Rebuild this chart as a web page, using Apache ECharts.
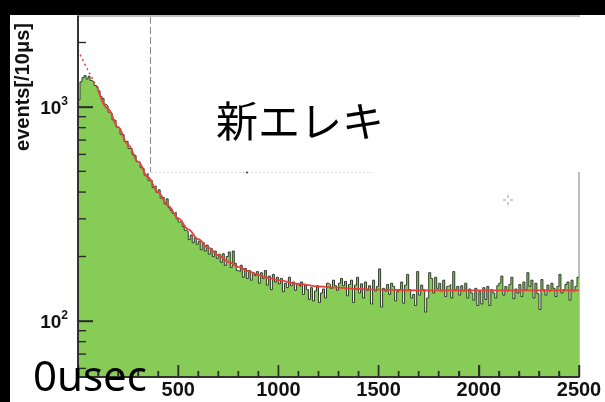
<!DOCTYPE html>
<html>
<head>
<meta charset="utf-8">
<script src="https://cdn.jsdelivr.net/npm/echarts@6/dist/echarts.min.js"></script>
<style>
  html, body { margin: 0; padding: 0; background: #fff; }
  #chart { width: 605px; height: 402px; }
</style>
</head>
<body>
<div id="chart"></div>
<script>
// Decay-time histogram: 10 μs bins from 0 to 2500 μs
const binWidth = 10;
const counts = [
  1080, 1310, 1370, 1400, 1350, 1390, 1330, 1310, 1260, 1240,
  1190, 1120, 1095, 1030, 1010, 945, 935, 870, 865, 805,
  795, 745, 742, 690, 690, 640, 640, 598, 592, 555,
  552, 520, 515, 480, 488, 452, 455, 420, 428, 398,
  410, 375, 378, 352, 372, 338, 328, 318, 322, 300,
  290, 293, 276, 265, 262, 240, 252, 232, 245, 228,
  236, 215, 232, 212, 226, 205, 218, 200, 212, 196,
  205, 188, 206, 182, 200, 210, 178, 212, 186, 172,
  170, 182, 160, 176, 158, 172, 155, 168, 163, 170,
  150, 168, 158, 172, 147, 162, 140, 165, 152, 160,
  149, 158, 137, 150, 143, 160, 146, 152, 139, 148,
  145, 152, 133, 147, 140, 126, 143, 124, 138, 146,
  122, 135, 141, 128, 150, 148, 142, 155, 146, 139,
  150, 158, 146, 153, 131, 148, 155, 122, 147, 160,
  135, 149, 128, 152, 139, 146, 120, 155, 138, 145,
  175, 116, 142, 138, 148, 133, 150, 145, 124, 137,
  140, 152, 121, 147, 165, 140, 128, 133, 118, 170,
  132, 147, 140, 110, 128, 168, 158, 135, 160, 142,
  150, 138, 155, 130, 145, 148, 128, 170, 140, 145,
  132, 146, 138, 150, 128, 141, 135, 125, 142, 118,
  137, 120, 143, 126, 145, 118, 140, 135, 128, 146,
  150, 162, 132, 145, 138, 148, 160, 127, 141, 135,
  148, 130, 152, 140, 168, 145, 155, 128, 150, 134,
  113, 156, 140, 132, 147, 138, 150, 142, 130, 145,
  165, 135, 140, 148, 152, 125, 155, 138, 145, 160
];

// Fitted decay curve (exponential + flat background)
const fitTime  = [0, 50, 100, 150, 200, 250, 300, 350, 400, 450, 500, 550, 600, 650, 700, 750, 800, 850, 900, 950, 1000, 1100, 1200, 1300, 1400, 1500, 1700, 2000, 2500];
const fitValue = [1839, 1483, 1202, 980, 804, 665, 555, 468, 399, 345, 302, 268, 241, 220, 203, 189, 179, 171, 164, 159, 155, 149, 145, 143, 141, 140, 139, 139, 139];
const fitStart = 100; // fit range begins here; curve before it is an extrapolation

// Axis ranges and tick values
const xMin = 0, xMax = 2500, xStep = 500, xMinorStep = 100;
const yMin = 54.7, yMax = 2660;
const yMajorTicks = [100, 1000];
const yMinorTicks = [60, 70, 80, 90, 200, 300, 400, 500, 600, 700, 800, 900, 2000];

const histData = counts.map((v, i) => [i * binWidth, v]);
histData.push([counts.length * binWidth, counts[counts.length - 1]]);
const fitPts = fitTime.map((t, i) => [t, fitValue[i]]);
const fitSolid = fitPts.filter(p => p[0] >= fitStart);
const fitDotted = fitPts.filter(p => p[0] <= fitStart);

// Inward frame ticks, drawn above the filled histogram:
// [kind, x, y, length]  kind 0 = x tick, 1 = y tick, 2 = bottom axis line, 3 = left axis line
const frameItems = [];
for (let t = xMin; t <= xMax; t += xMinorStep) frameItems.push([0, t, yMin, t % xStep === 0 ? 12 : 6]);
yMajorTicks.forEach(v => frameItems.push([1, xMin, v, 15]));
yMinorTicks.forEach(v => frameItems.push([1, xMin, v, 8]));
frameItems.push([2, xMin, yMin, 0], [3, xMin, yMin, 0]);

const lg = Math.log10;
const axisDark = '#2a2a2a';

const chart = echarts.init(document.getElementById('chart'), null, { renderer: 'canvas' });
chart.setOption({
  animation: false,
  backgroundColor: '#fff',
  grid: {
    left: 78, right: 26, top: 16, bottom: 25,
    show: true, borderColor: '#aaa', borderWidth: 1.5
  },
  xAxis: {
    type: 'value', min: xMin, max: xMax, interval: xStep, z: 10,
    axisLine: { show: true, onZero: false, lineStyle: { color: axisDark, width: 1.5 } },
    axisTick: { show: true, inside: true, length: 12, lineStyle: { color: axisDark, width: 1.4 } },
    minorTick: { show: true, splitNumber: 5, length: 6, lineStyle: { color: axisDark, width: 1.4 } },
    splitLine: { show: false },
    axisLabel: {
      show: true, margin: 3, color: '#111', fontFamily: 'Liberation Sans', fontWeight: 'bold', fontSize: 20,
      formatter: v => (v === 0 ? '' : String(v))
    }
  },
  yAxis: [
    // data axis (logarithmic)
    { type: 'log', min: yMin, max: yMax, show: false },
    // decade labels, laid out in log10 space
    {
      type: 'value', min: lg(yMin), max: lg(yMax), position: 'left', z: 10,
      axisLine: { show: true, onZero: false, lineStyle: { color: axisDark, width: 1.5 } },
      axisTick: { show: true, inside: true, length: 15, customValues: yMajorTicks.map(lg), lineStyle: { color: axisDark, width: 1.4 } },
      axisLabel: {
        show: true, customValues: yMajorTicks.map(lg), margin: 10,
        formatter: v => '{b|10}{s|' + Math.round(v) + '}',
        rich: {
          b: { fontFamily: 'Liberation Sans', fontWeight: 'bold', fontSize: 19, color: '#111', lineHeight: 22, verticalAlign: 'bottom' },
          s: { fontFamily: 'Liberation Sans', fontWeight: 'bold', fontSize: 12, color: '#111', lineHeight: 22, verticalAlign: 'top' }
        }
      },
      splitLine: { show: false }
    }
  ],
  series: [
    {
      type: 'line', yAxisIndex: 0, data: histData, step: 'end', symbol: 'none',
      lineStyle: { color: '#2e3a2a', width: 1 },
      areaStyle: { color: '#88cc58', opacity: 1, origin: 'start' },
      z: 2
    },
    {
      type: 'line', yAxisIndex: 0, data: fitDotted, symbol: 'none', smooth: 0.4,
      lineStyle: { color: '#e8403a', width: 1.5, type: [2, 3] }, z: 3
    },
    {
      type: 'line', yAxisIndex: 0, data: fitSolid, symbol: 'none', smooth: 0.4, smoothMonotone: 'x',
      lineStyle: { color: '#e8403a', width: 1.8 }, z: 3
    },
    {
      type: 'custom', yAxisIndex: 0, data: frameItems, silent: true, z: 5,
      encode: { x: 1, y: 2 },
      renderItem: (params, api) => {
        const kind = api.value(0);
        const p = api.coord([api.value(1), api.value(2)]);
        const len = api.value(3);
        let shape;
        if (kind === 0) {
          shape = { x1: p[0], y1: p[1], x2: p[0], y2: p[1] - len };
        } else if (kind === 1) {
          shape = { x1: p[0], y1: p[1], x2: p[0] + len, y2: p[1] };
        } else if (kind === 2) {
          const q = api.coord([xMax, yMin]);
          shape = { x1: p[0], y1: p[1], x2: q[0], y2: q[1] };
        } else {
          const q = api.coord([xMin, yMax]);
          shape = { x1: p[0], y1: p[1], x2: q[0], y2: q[1] };
        }
        return { type: 'line', shape, style: { stroke: axisDark, lineWidth: kind >= 2 ? 1.5 : 1.4 } };
      }
    }
  ],
  graphic: [
    { type: 'rect', z: 100, shape: { x: 0, y: 0, width: 605, height: 15 }, style: { fill: '#000' } },
    { type: 'rect', z: 100, shape: { x: 0, y: 0, width: 10, height: 402 }, style: { fill: '#000' } },
    // pasted label panel over the upper right of the plot
    { type: 'rect', z: 50, shape: { x: 151, y: 17, width: 432, height: 155 }, style: { fill: '#fff' } },
    { type: 'line', z: 51, shape: { x1: 150.5, y1: 17, x2: 150.5, y2: 172 }, style: { stroke: '#8a8a8a', lineWidth: 1, lineDash: [7, 3] } },
    { type: 'line', z: 51, shape: { x1: 151, y1: 172.5, x2: 372, y2: 172.5 }, style: { stroke: '#d8d8d8', lineWidth: 1, lineDash: [2, 2] } },
    { type: 'circle', z: 51, shape: { cx: 247, cy: 172.5, r: 1 }, style: { fill: '#333' } },
    { type: 'text', z: 52, x: 300, y: 121, style: { text: '新エレキ', font: '42px "Noto Sans CJK JP"', fill: '#000', align: 'center', verticalAlign: 'middle' } },
    // small cursor mark
    { type: 'line', z: 52, shape: { x1: 508, y1: 195, x2: 508, y2: 198 }, style: { stroke: '#999', lineWidth: 1 } },
    { type: 'line', z: 52, shape: { x1: 508, y1: 202, x2: 508, y2: 205 }, style: { stroke: '#999', lineWidth: 1 } },
    { type: 'line', z: 52, shape: { x1: 503, y1: 200, x2: 506, y2: 200 }, style: { stroke: '#999', lineWidth: 1 } },
    { type: 'line', z: 52, shape: { x1: 510, y1: 200, x2: 513, y2: 200 }, style: { stroke: '#999', lineWidth: 1 } },
    // axis title
    { type: 'text', z: 60, x: 23, y: 87, rotation: Math.PI / 2, style: { text: 'events[/10μs]', font: 'bold 20px "Liberation Sans"', fill: '#111', align: 'center', verticalAlign: 'middle' } },
    // time-origin annotation
    { type: 'text', z: 60, x: 33, y: 379, style: { text: '0usec', font: '42px "Noto Sans"', fill: '#000', align: 'left', verticalAlign: 'middle' } }
  ]
});
</script>
</body>
</html>
